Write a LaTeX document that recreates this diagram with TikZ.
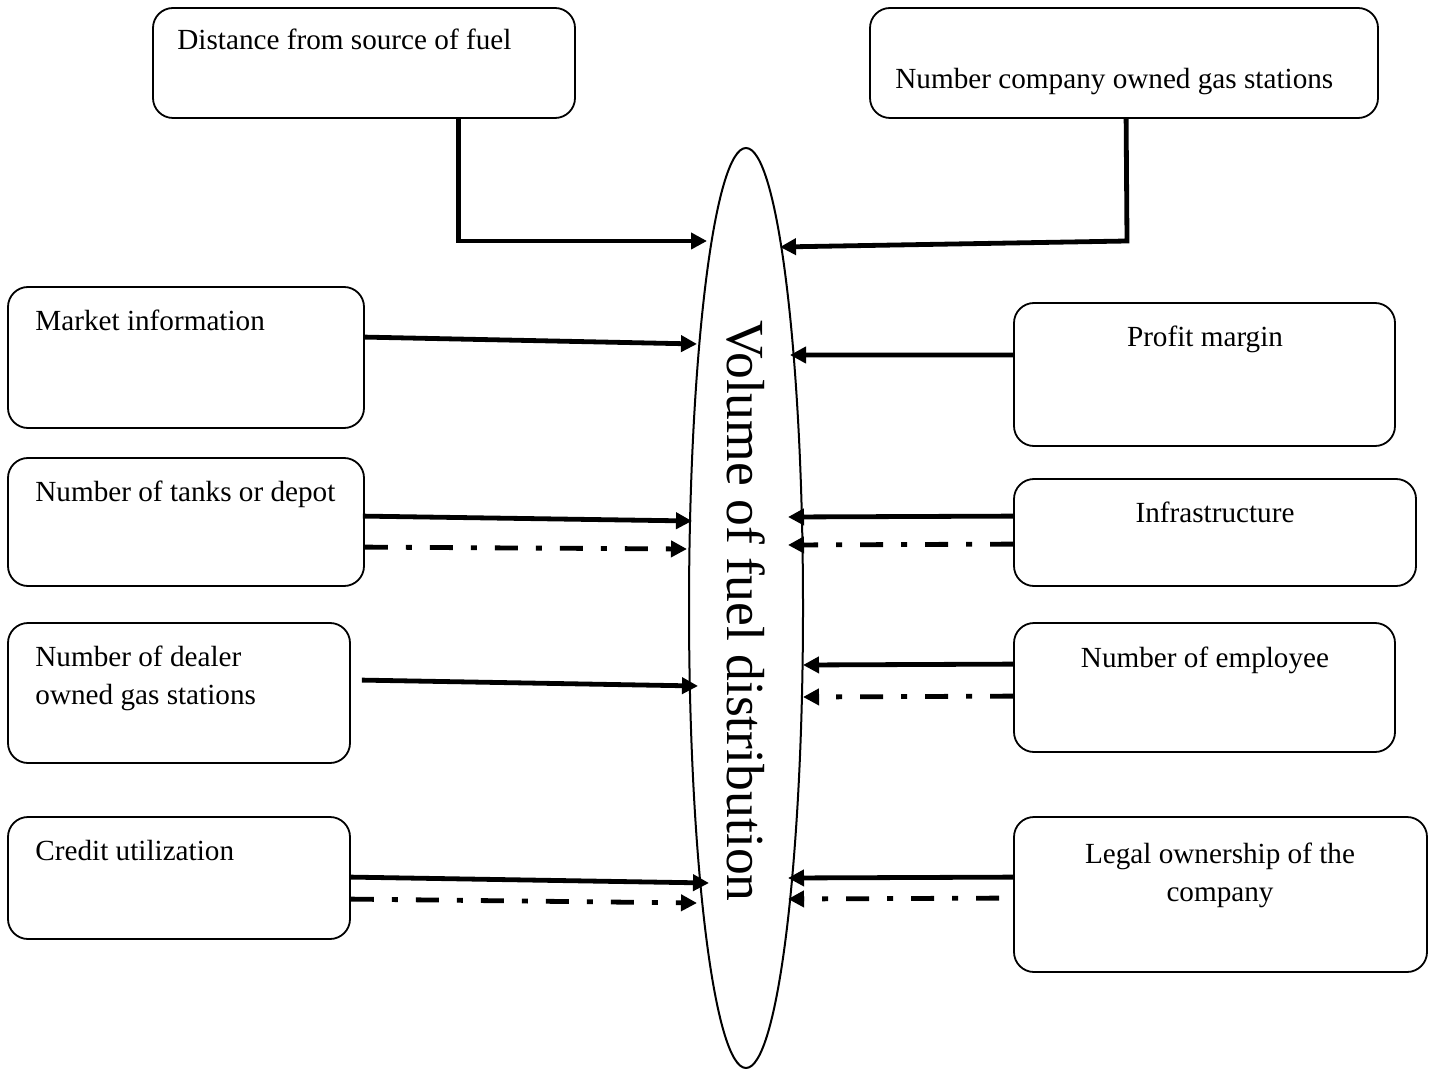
\documentclass[tikz,border=0pt]{standalone}
\usepackage{fontspec}
\setmainfont{Liberation Serif}
\usetikzlibrary{arrows.meta,shapes.geometric,fit,calc}
\begin{document}
\begin{tikzpicture}[x=0.5pt,y=-0.5pt,
  box/.style={draw, rounded corners=10pt, line width=0.9pt, inner sep=0pt},
  txt/.style={font=\fontsize{14.6}{19}\selectfont, inner sep=0pt},
  arr/.style={line width=2.4pt, -{Triangle[length=8pt,width=8pt]}},
  dd/.style={arr, dash pattern=on 11.5pt off 9pt on 3pt off 9pt},
]
\useasboundingbox (0,0) rectangle (1439,1069);
% boxes
\node[box, fit={(153,8) (575,118)}] (dist) {};
\node[box, fit={(870,8) (1378,118)}] (ncomp) {};
\node[box, fit={(8,287) (364,428)}] (mkt) {};
\node[box, fit={(8,458) (364,586)}] (tank) {};
\node[box, fit={(8,623) (350,763)}] (deal) {};
\node[box, fit={(8,817) (350,939)}] (cred) {};
\node[box, fit={(1014,303) (1395,446)}] (prof) {};
\node[box, fit={(1014,479) (1416,586)}] (infra) {};
\node[box, fit={(1014,623) (1395,752)}] (emp) {};
\node[box, fit={(1014,817) (1427,972)}] (legal) {};
% texts
\node[txt, anchor=base west] (distT) at (177,50) {Distance from source of fuel};
\node[txt, anchor=base west] (ncompT) at (895,89) {Number company owned gas stations};
\node[txt, anchor=base west] (mktT) at (35,331) {Market information};
\node[txt, anchor=base west] (tankT) at (35,501) {Number of tanks or depot};
\node[txt, anchor=base west, align=left] (dealT) at (35,704) {Number of dealer\\owned gas stations};
\node[txt, anchor=base west] (credT) at (35,860) {Credit utilization};
\node[txt, anchor=base] (profT) at (1205,347) {Profit margin};
\node[txt, anchor=base] (infraT) at (1215,522) {Infrastructure};
\node[txt, anchor=base] (empT) at (1205,667) {Number of employee};
\node[txt, anchor=base, align=center] (legalT) at (1220,901) {Legal ownership of the\\company};
% ellipse
\node[draw, ellipse, line width=1pt, minimum width=57pt, minimum height=460pt, inner sep=0pt] (vol) at (746,608) {};
\node[rotate=-90, font=\fontsize{26.8}{30}\selectfont, inner sep=0pt] (volT) at (746,611) {Volume of fuel distribution};
% connectors
\draw[arr] ($(dist.south west)+(306,0)$) |- (707,241);
\draw[arr] ($(ncomp.south west)+(257,0)$) -- (1127,241) -- (780,247);
\draw[arr] ($(mkt.north east)+(0,51)$) -- (697,344);
\draw[arr] ($(tank.north east)+(-2,59)$) -- (692,521);
\draw[dd] ($(tank.north east)+(0,90)$) -- (687,549);
\draw[arr] ($(deal.north east)+(11,58)$) -- (698,686);
\draw[arr] ($(cred.north east)+(0,61)$) -- (709,883);
\draw[dd] ($(cred.north east)+(0,83)$) -- (697,903);
\draw[arr] ($(prof.north west)+(0,53)$) -- (790,355);
\draw[arr] ($(infra.north west)+(0,38)$) -- (788,517);
\draw[dd] ($(infra.north west)+(0,66)$) -- (788,545);
\draw[arr] ($(emp.north west)+(0,42)$) -- (803,665);
\draw[dd] ($(emp.north west)+(0,74)$) -- (803,697);
\draw[arr] ($(legal.north west)+(0,61)$) -- (788,878);
\draw[dd] ($(legal.north west)+(-14,82)$) -- (788,899);
\end{tikzpicture}
\end{document}
